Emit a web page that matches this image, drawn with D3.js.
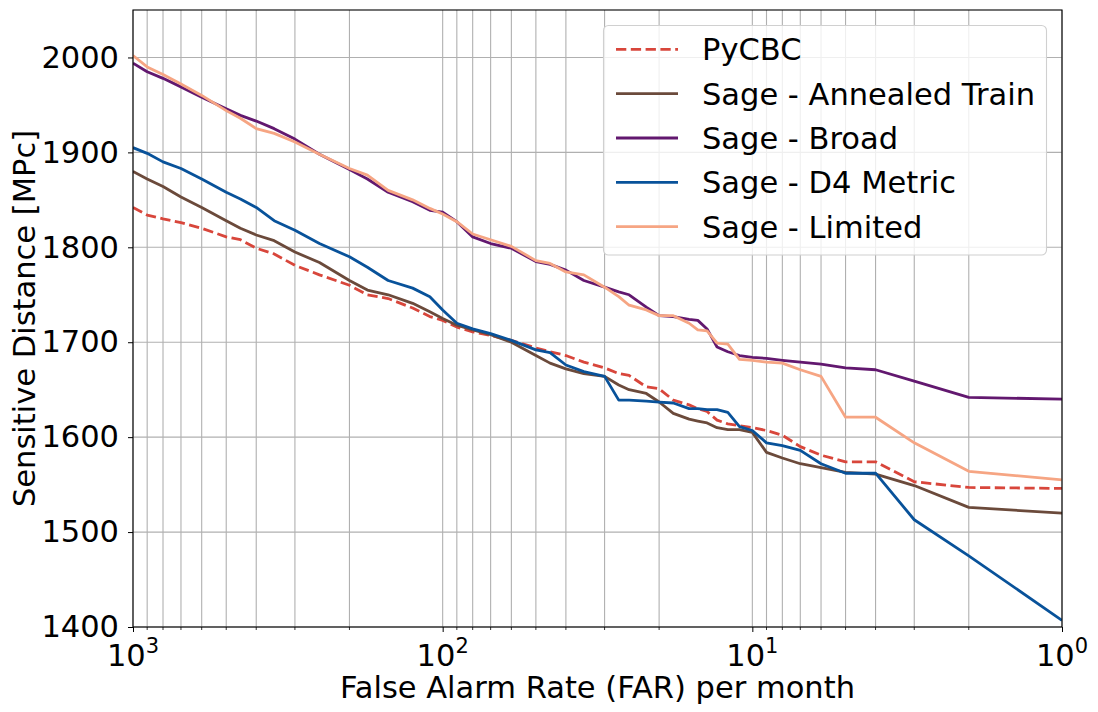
<!DOCTYPE html>
<html>
<head>
<meta charset="utf-8">
<title>Sensitive Distance vs FAR</title>
<style type="text/css">
    body{
        margin: 0;
        background-color: #fff;
    }
    svg{
        display: block;
        font-family: "DejaVu Sans", sans-serif;
    }
    .grid line{
        stroke: #b0b0b0;
        stroke-width: 1.1px;
    }
    .axis text{
        fill: #000;
        font-size: 30.5px;
        font-family: "DejaVu Sans", sans-serif;
    }
    .axis line, .axis path{
        stroke: #000;
    }
</style>
<script type="text/javascript" src="https://cdn.jsdelivr.net/npm/d3@7/dist/d3.min.js"></script>
</head>
<body>
<div id="chart"></div>
<script type="text/javascript">
    var width = 1098, height = 712;
    var mLeft = 133, mRight = 1062, mTop = 10, mBottom = 627;

    // false alarm rate per month (shared x positions)
    var far = [1000, 900, 800, 700, 600, 500, 450, 400, 350, 300, 250,
               200, 175, 150, 125, 110, 100, 90, 80, 70, 60,
               50, 45, 40, 35, 30, 27, 25, 22, 20, 18, 16, 15, 14,
               13, 12, 11, 10, 9, 8, 7, 6, 5, 4, 3, 2, 1];

    var pycbc = [1842, 1834, 1830, 1826, 1820, 1811, 1808, 1799, 1793, 1781, 1771,
                 1760, 1750, 1746, 1736, 1727, 1723, 1716, 1711, 1707, 1702,
                 1694, 1690, 1686, 1679, 1673, 1667, 1665, 1653, 1651, 1639, 1634, 1630, 1627,
                 1618, 1614, 1612, 1610, 1607, 1602, 1590, 1581, 1574, 1574, 1553, 1547, 1546];

    var annealed = [1880, 1872, 1864, 1853, 1842, 1828, 1820, 1813, 1807, 1795, 1784,
                    1765, 1755, 1750, 1741, 1732, 1725, 1718, 1713, 1708, 1700,
                    1686, 1678, 1672, 1667, 1664, 1655, 1650, 1646, 1637, 1625, 1619, 1617, 1615,
                    1610, 1608, 1608, 1605, 1584, 1578, 1572, 1568, 1563, 1561, 1549, 1526, 1520];

    var broad = [1994, 1985, 1978, 1969, 1958, 1946, 1939, 1933, 1925, 1914, 1898,
                 1882, 1872, 1858, 1848, 1839, 1837, 1827, 1811, 1804, 1799,
                 1785, 1782, 1776, 1765, 1758, 1753, 1750, 1737, 1728, 1727, 1724, 1723, 1714,
                 1695, 1690, 1686, 1684, 1683, 1681, 1679, 1677, 1673, 1671, 1659, 1642, 1640];

    var d4metric = [1905, 1899, 1890, 1883, 1872, 1858, 1851, 1842, 1828, 1818, 1804,
                    1790, 1779, 1765, 1757, 1748, 1734, 1720, 1714, 1709, 1702,
                    1692, 1689, 1676, 1669, 1664, 1639, 1639, 1638, 1637, 1636, 1630, 1630, 1629,
                    1629, 1626, 1611, 1607, 1594, 1591, 1586, 1572, 1562, 1562, 1513, 1475, 1407];

    var limited = [2002, 1990, 1982, 1972, 1960, 1944, 1936, 1925, 1920, 1911, 1898,
                   1883, 1876, 1860, 1850, 1841, 1835, 1827, 1814, 1808, 1801,
                   1786, 1783, 1774, 1771, 1758, 1748, 1739, 1734, 1728, 1728, 1720, 1713, 1712,
                   1699, 1698, 1682, 1681, 1679, 1678, 1671, 1664, 1621, 1621, 1594, 1564, 1555];

    var seriesNames = ['PyCBC', 'Sage - Annealed Train', 'Sage - Broad', 'Sage - D4 Metric', 'Sage - Limited'];
    var seriesValues = [pycbc, annealed, broad, d4metric, limited];
    var seriesColors = ['#d8463b', '#6b4a3b', '#62186f', '#08529a', '#f6a583'];

    var majorTicks = [1000, 100, 10, 1];
    var majorExp = ['3', '2', '1', '0'];
    var yTicks = [1400, 1500, 1600, 1700, 1800, 1900, 2000];

    var minorTicks = [];
    [1, 10, 100].forEach(function(base){
        for (var m = 2; m <= 9; m++) minorTicks.push(base * m);
    });

    var svg = d3.select('#chart')
        .append('svg')
        .attr('width', width)
        .attr('height', height);

    var xScale = d3.scaleLog()
        .domain([1000, 1])
        .range([mLeft, mRight]);

    var yScale = d3.scaleLinear()
        .domain([1400, 2050])
        .range([mBottom, mTop]);

    // grid
    var grid = svg.append('g').attr('class', 'grid');
    grid.selectAll('.vx')
        .data(majorTicks.concat(minorTicks))
        .enter()
        .append('line')
        .attr('x1', function(d){ return xScale(d); })
        .attr('x2', function(d){ return xScale(d); })
        .attr('y1', mTop)
        .attr('y2', mBottom);
    grid.selectAll('.hy')
        .data(yTicks)
        .enter()
        .append('line')
        .attr('x1', mLeft)
        .attr('x2', mRight)
        .attr('y1', function(d){ return yScale(d); })
        .attr('y2', function(d){ return yScale(d); });

    // lines
    var line = d3.line()
        .x(function(d){ return xScale(d[0]); })
        .y(function(d){ return yScale(d[1]); });

    svg.append('defs').append('clipPath')
        .attr('id', 'clip')
        .append('rect')
        .attr('x', mLeft).attr('y', mTop)
        .attr('width', mRight - mLeft).attr('height', mBottom - mTop);

    var plot = svg.append('g').attr('clip-path', 'url(#clip)');
    seriesValues.forEach(function(vals, i){
        plot.append('path')
            .datum(far.map(function(f, j){ return [f, vals[j]]; }))
            .attr('fill', 'none')
            .attr('stroke', seriesColors[i])
            .attr('stroke-width', 2.8)
            .attr('stroke-linejoin', 'round')
            .attr('stroke-dasharray', i === 0 ? '10.3,4.5' : null)
            .attr('d', line);
    });

    // axes
    var xAxis = d3.axisBottom(xScale)
        .tickValues(majorTicks)
        .tickSize(5)
        .tickFormat('');
    var xAxisG = svg.append('g')
        .attr('class', 'axis')
        .attr('transform', 'translate(0,' + mBottom + ')')
        .call(xAxis);
    xAxisG.select('.domain').remove();
    xAxisG.selectAll('.tick text').remove();

    xAxisG.selectAll('.minor')
        .data(minorTicks)
        .enter()
        .append('line')
        .attr('x1', function(d){ return xScale(d); })
        .attr('x2', function(d){ return xScale(d); })
        .attr('y1', 0)
        .attr('y2', 3)
        .attr('stroke', '#000')
        .attr('stroke-width', 0.8);

    var xLab = xAxisG.selectAll('.xlab')
        .data(majorTicks)
        .enter()
        .append('text')
        .attr('x', function(d){ return xScale(d); })
        .attr('y', 39)
        .attr('text-anchor', 'middle');
    xLab.append('tspan').text('10');
    xLab.append('tspan')
        .attr('dy', -13)
        .style('font-size', '21px')
        .text(function(d, i){ return majorExp[i]; });

    var yAxis = d3.axisLeft(yScale)
        .tickValues(yTicks)
        .tickFormat(d3.format('d'))
        .tickSize(5)
        .tickPadding(9);
    var yAxisG = svg.append('g')
        .attr('class', 'axis')
        .attr('transform', 'translate(' + mLeft + ',0)')
        .call(yAxis);
    yAxisG.select('.domain').remove();

    svg.append('rect')
        .attr('x', mLeft).attr('y', mTop)
        .attr('width', mRight - mLeft).attr('height', mBottom - mTop)
        .attr('fill', 'none')
        .attr('stroke', '#000')
        .attr('stroke-width', 1.1);

    svg.append('text')
        .attr('x', (mLeft + mRight) / 2)
        .attr('y', 698)
        .attr('text-anchor', 'middle')
        .style('font-size', '30.5px')
        .text('False Alarm Rate (FAR) per month');

    svg.append('text')
        .attr('transform', 'translate(35,' + ((mTop + mBottom) / 2) + ') rotate(-90)')
        .attr('text-anchor', 'middle')
        .style('font-size', '30.5px')
        .text('Sensitive Distance [MPc]');

    // legend
    var legend = svg.append('g');
    legend.append('rect')
        .attr('x', 603.5).attr('y', 25.5)
        .attr('width', 443).attr('height', 229.5)
        .attr('rx', 5)
        .attr('fill', '#fff')
        .attr('fill-opacity', 0.8)
        .attr('stroke', '#d0d0d0')
        .attr('stroke-width', 1.1);

    seriesNames.forEach(function(name, i){
        var yy = 49.3 + i * 44.35;
        legend.append('line')
            .attr('x1', 616).attr('x2', 678)
            .attr('y1', yy).attr('y2', yy)
            .attr('stroke', seriesColors[i])
            .attr('stroke-width', 2.8)
            .attr('stroke-dasharray', i === 0 ? '10.3,4.5' : null);
        legend.append('text')
            .attr('x', 702)
            .attr('y', yy + 11)
            .style('font-size', '30.5px')
            .text(name);
    });
</script>
</body>
</html>
